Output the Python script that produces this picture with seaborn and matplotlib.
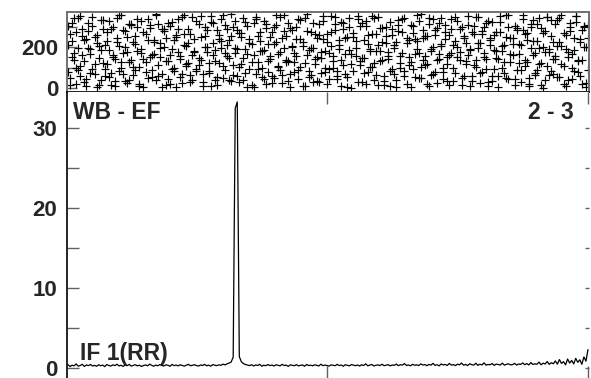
import numpy as np
import pandas as pd
import matplotlib
matplotlib.use("Agg")
import matplotlib.pyplot as plt
import seaborn as sns
from matplotlib.ticker import FixedLocator

# ---------------- data ----------------
spectrum = [
    0.42, 0.18, 0.35, 0.27, 0.51, 0.22, 0.31, 0.46, 0.19, 0.38, 0.29, 0.44, 0.25, 0.33, 0.21, 0.40,
    0.28, 0.36, 0.17, 0.43, 0.31, 0.24, 0.39, 0.30, 0.47, 0.26, 0.34, 0.20, 0.37, 0.29, 0.45, 0.23,
    0.32, 0.41, 0.26, 0.35, 0.19, 0.30, 0.38, 0.27, 0.48, 0.33, 0.22, 0.36, 0.28, 0.42, 0.31, 0.25,
    0.39, 0.34, 0.21, 0.44, 0.29, 0.37, 0.26, 0.40, 0.32, 0.23, 0.35, 0.46, 0.28, 0.33, 0.41, 0.30,
    0.24, 0.38, 0.31, 0.45, 0.27, 0.36, 0.22, 0.43, 0.34, 0.29, 0.40, 0.33, 0.48, 0.39, 0.52, 0.61,
    0.74, 1.35, 32.4, 33.2, 1.42, 0.78, 0.55, 0.44, 0.36, 0.29, 0.41, 0.25, 0.38, 0.31, 0.46, 0.22,
    0.35, 0.28, 0.43, 0.30, 0.37, 0.24, 0.40, 0.33, 0.27, 0.45, 0.31, 0.36, 0.20, 0.39, 0.34, 0.28,
    0.42, 0.26, 0.33, 0.38, 0.21, 0.44, 0.30, 0.35, 0.27, 0.40, 0.32, 0.25, 0.47, 0.29, 0.36, 0.31,
    0.23, 0.39, 0.34, 0.28, 0.45, 0.30, 0.37, 0.22, 0.41, 0.33, 0.26, 0.43, 0.35, 0.29, 0.38, 0.24,
    0.40, 0.31, 0.52, 0.27, 0.36, 0.44, 0.25, 0.34, 0.39, 0.30, 0.47, 0.28, 0.35, 0.42, 0.26, 0.37,
    0.33, 0.49, 0.29, 0.41, 0.36, 0.55, 0.31, 0.38, 0.27, 0.46, 0.34, 0.40, 0.30, 0.51, 0.37, 0.43,
    0.28, 0.45, 0.35, 0.58, 0.32, 0.41, 0.26, 0.50, 0.38, 0.44, 0.31, 0.57, 0.36, 0.42, 0.29, 0.48,
    0.39, 0.62, 0.34, 0.45, 0.30, 0.53, 0.41, 0.36, 0.59, 0.33, 0.47, 0.38, 0.64, 0.35, 0.44, 0.40,
    0.56, 0.32, 0.49, 0.43, 0.37, 0.61, 0.35, 0.46, 0.52, 0.39, 0.42, 0.58, 0.36, 0.50, 0.45, 0.63,
    0.41, 0.55, 0.38, 0.67, 0.44, 0.52, 0.47, 0.73, 0.40, 0.60, 0.49, 0.81, 0.45, 0.66, 0.53, 0.88,
    0.48, 1.05, 0.57, 0.79, 0.39, 1.12, 0.62, 0.94, 0.51, 1.20, 0.70, 1.02, 0.46, 1.38, 0.85, 2.30,
]

phase_a = [
    212, 47, 318, 139, 275, 88, 351, 163, 29, 241, 196, 72, 305, 118, 260, 14,
    187, 333, 95, 228, 56, 290, 151, 8, 344, 203, 127, 66, 279, 174, 38, 312,
    101, 256, 183, 20, 327, 144, 79, 235, 295, 52, 168, 359, 113, 218, 6, 286,
    131, 44, 301, 192, 84, 247, 339, 155, 25, 266, 108, 221, 62, 348, 177, 93,
    310, 137, 11, 252, 199, 74, 323, 160, 41, 283, 122, 231, 357, 86, 209, 147,
    33, 298, 170, 59, 269, 115, 342, 190, 3, 238, 129, 317, 68, 254, 181, 97,
    329, 18, 216, 143, 271, 50, 306, 164, 90, 245, 354, 126, 36, 292, 200, 77,
    158, 337, 105, 224, 12, 280, 185, 63, 319, 140, 243, 27, 174, 350, 99, 262,
    45, 207, 134, 313, 81, 233, 9, 288, 166, 54, 341, 119, 250, 195, 31, 302,
    148, 71, 325, 214, 102, 265, 40, 179, 347, 133, 226, 16, 296, 157, 83, 258,
    197, 5, 332, 124, 275, 58, 219, 151, 308, 92, 239, 356, 173, 48, 285, 111,
    22, 343, 188, 67, 257, 136, 315, 205, 79, 272, 35, 162, 335, 100, 229, 153,
    289, 13, 242, 117, 352, 186, 61, 303, 139, 222, 26, 278, 171, 94, 328, 210,
    57, 261, 145, 4, 320, 182, 73, 249, 358, 128, 217, 42, 293, 165, 87, 338,
    107, 236, 19, 299, 159, 64, 311, 193, 120, 270, 37, 345, 176, 85, 227, 141,
    331, 53, 204, 268, 10, 178, 316, 96, 244, 353, 132, 60, 284, 201, 24, 307,
]

phase_b = [
    78, 264, 153, 340, 21, 197, 109, 286, 232, 45, 318, 167, 92, 251, 7, 205,
    331, 120, 59, 274, 184, 15, 297, 142, 223, 81, 355, 169, 34, 248, 126, 309,
    63, 215, 298, 104, 172, 5, 263, 337, 150, 87, 226, 41, 311, 193, 70, 279,
    244, 132, 18, 320, 99, 259, 175, 52, 346, 210, 115, 289, 30, 161, 238, 84,
    147, 352, 69, 200, 282, 124, 9, 315, 187, 56, 241, 335, 106, 173, 290, 38,
    255, 112, 326, 188, 27, 267, 146, 75, 303, 220, 13, 159, 348, 95, 231, 180,
    46, 292, 133, 250, 61, 214, 356, 102, 178, 23, 276, 139, 319, 68, 207, 127,
    300, 89, 237, 11, 344, 162, 54, 271, 195, 118, 32, 258, 148, 327, 80, 224,
    171, 353, 97, 285, 43, 212, 136, 316, 66, 247, 186, 2, 269, 154, 339, 110,
    28, 234, 305, 76, 192, 351, 123, 262, 17, 183, 294, 57, 218, 141, 323, 91,
    209, 39, 277, 156, 336, 85, 246, 114, 6, 301, 168, 230, 49, 360, 135, 253,
    119, 313, 64, 199, 281, 25, 165, 342, 98, 239, 152, 14, 287, 208, 73, 329,
    174, 51, 256, 130, 307, 189, 35, 266, 103, 349, 221, 79, 296, 144, 12, 235,
    322, 93, 181, 58, 273, 206, 125, 358, 42, 245, 160, 302, 88, 217, 31, 284,
    137, 268, 10, 194, 334, 72, 229, 116, 293, 1, 176, 345, 62, 252, 143, 310,
    55, 225, 357, 108, 191, 37, 278, 164, 82, 321, 138, 240, 19, 304, 198, 90,
]

phase_c = [
    301, 16, 229, 171, 96, 343, 58, 254, 132, 8, 276, 190, 349, 67, 218, 145,
    40, 290, 208, 117, 326, 74, 161, 33, 245, 356, 100, 283, 198, 24, 314, 138,
    227, 86, 339, 12, 191, 272, 125, 47, 306, 163, 234, 355, 60, 149, 287, 201,
    15, 317, 162, 94, 233, 5, 288, 141, 70, 354, 203, 121, 266, 39, 181, 327,
    112, 249, 31, 297, 176, 83, 350, 219, 130, 14, 261, 193, 48, 308, 154, 236,
    359, 65, 194, 283, 102, 248, 37, 320, 168, 91, 216, 7, 337, 129, 275, 53,
    185, 313, 78, 157, 26, 299, 227, 109, 346, 62, 195, 253, 134, 4, 281, 170,
    237, 44, 330, 206, 120, 359, 85, 196, 29, 264, 150, 312, 71, 241, 179, 18,
    92, 274, 156, 345, 60, 189, 321, 113, 243, 3, 297, 167, 84, 228, 352, 131,
    318, 146, 21, 260, 183, 105, 340, 64, 211, 295, 137, 36, 256, 174, 10, 286,
    66, 223, 307, 97, 172, 341, 20, 232, 126, 270, 52, 189, 326, 104, 242, 158,
    254, 11, 181, 336, 76, 293, 142, 215, 45, 308, 118, 259, 171, 34, 349, 200,
    135, 298, 57, 220, 163, 8, 275, 111, 347, 196, 72, 262, 153, 316, 27, 244,
    32, 187, 271, 140, 353, 99, 212, 50, 300, 166, 244, 13, 284, 121, 209, 356,
    263, 128, 49, 313, 230, 169, 87, 341, 14, 202, 280, 108, 188, 331, 69, 158,
    205, 342, 116, 22, 258, 151, 299, 43, 184, 350, 79, 227, 137, 296, 6, 245,
]

amp_ticks = [0, 10, 20, 30]
amp_minor = [5, 15, 25]
phase_ticks = [0, 200]
phase_minor = [100, 300]
chan_ticks = [128, 256]
label_left = "WB - EF"
label_right = "2 - 3"
label_if = "IF 1(RR)"

# ---------------- frames ----------------
spec_df = pd.DataFrame({"channel": np.arange(1, len(spectrum) + 1), "amp": spectrum})
frames = []
for arr in (phase_a, phase_b, phase_c):
    frames.append(pd.DataFrame({"channel": np.arange(1, len(arr) + 1), "phase": arr}))
phase_df = pd.concat(frames, ignore_index=True)

# ---------------- style ----------------
sns.set_theme(style="white")
plt.rcParams["font.family"] = ["Liberation Sans", "DejaVu Sans"]
plt.rcParams["font.weight"] = "bold"

W, H = 591, 378
fig = plt.figure(figsize=(W / 100, H / 100), dpi=100)
left = 67 / W
width = 522 / W
split = 1 - 91.5 / H
ax1 = fig.add_axes([left, split, width, (91.5 - 12) / H])
ax2 = fig.add_axes([left, 0, width, split])

FS = 16
FS_TXT = 16.5
tick_col = "#606060"

# ---- top panel: phase ----
sns.scatterplot(data=phase_df, x="channel", y="phase", ax=ax1, marker="+",
                color="black", s=36, linewidth=0.85, legend=False)
ax1.set_xlim(0.5, 256.5)
ax1.set_ylim(-17, 371)
ax1.set_xlabel("")
ax1.set_ylabel("")
ax1.set_xticks([])
ax1.yaxis.set_major_locator(FixedLocator(phase_ticks))
ax1.yaxis.set_minor_locator(FixedLocator(phase_minor))
ax1.set_yticklabels([str(t) for t in phase_ticks], fontsize=FS, fontweight="bold")
ax1.tick_params(axis="y", which="both", direction="in", length=7.5, width=1.0,
                color=tick_col, pad=6, left=True)
for s in ax1.spines.values():
    s.set_visible(True)
    s.set_color("#707070")
    s.set_linewidth(1.4)
ax1.spines["bottom"].set_color("#202020")

# ---- bottom panel: amplitude spectrum ----
sns.lineplot(data=spec_df, x="channel", y="amp", ax=ax2, color="black",
             linewidth=0.9, legend=False)
ax2.set_xlim(0.5, 256.5)
ax2.set_ylim(-1.25, 34.5)
ax2.set_xlabel("")
ax2.set_ylabel("")
ax2.xaxis.set_major_locator(FixedLocator(chan_ticks))
ax2.set_xticklabels([])
ax2.tick_params(axis="x", which="both", direction="in", length=8.5, width=1.0,
                color=tick_col, top=True, bottom=True)
ax2.yaxis.set_major_locator(FixedLocator(amp_ticks))
ax2.yaxis.set_minor_locator(FixedLocator(amp_minor))
ax2.set_yticklabels([str(t) for t in amp_ticks], fontsize=FS, fontweight="bold")
ax2.tick_params(axis="y", which="both", direction="in", length=8.5, width=1.0,
                color=tick_col, pad=7, left=True, right=False)
for s in ("top", "right", "bottom"):
    ax2.spines[s].set_visible(False)
ax2.spines["left"].set_visible(True)
ax2.spines["left"].set_color("black")
ax2.spines["left"].set_linewidth(1.2)

# short right-side ticks
ax2r = ax2.twinx()
ax2r.set_ylim(ax2.get_ylim())
ax2r.yaxis.set_major_locator(FixedLocator(amp_ticks + amp_minor))
ax2r.set_yticklabels([])
ax2r.tick_params(axis="y", direction="in", length=3, width=1.0, color=tick_col, right=True)
for s in ax2r.spines.values():
    s.set_visible(False)
ax2r.grid(False)

fig.text(73 / W, 1 - 119 / H, label_left, fontsize=FS_TXT, fontweight="bold",
         ha="left", va="baseline")
fig.text(574 / W, 1 - 119 / H, label_right, fontsize=FS_TXT, fontweight="bold",
         ha="right", va="baseline")
fig.text(80 / W, 1 - 360 / H, label_if, fontsize=FS_TXT, fontweight="bold",
         ha="left", va="baseline")

fig.savefig("out.png", dpi=100)
